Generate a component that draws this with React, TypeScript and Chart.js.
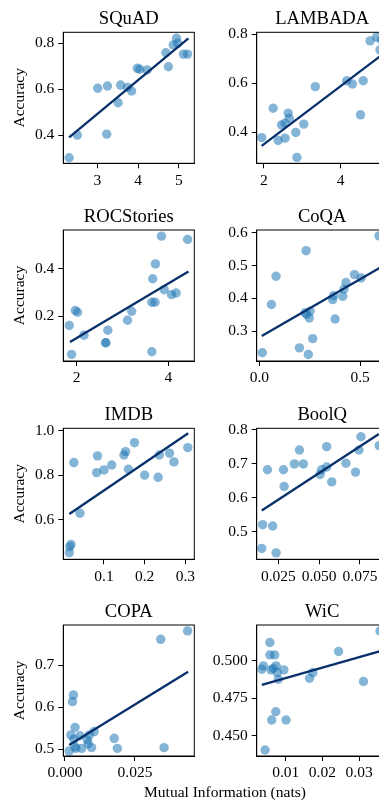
import React, { useEffect, useRef } from 'react';
import { Chart, registerables } from 'chart.js';

Chart.register(...registerables);

const FONT = '"Liberation Serif", "Times New Roman", serif';
const TICK_SIZE = 15.5;
const LABEL_SIZE = 15.5;
const TITLE_SIZE = 18.6;
const DOT = 'rgba(31,119,180,0.55)';
const LINE = 'rgb(8,48,107)';

// ---------- SQuAD ----------
const squadX = [2.31, 2.51, 3.01, 3.25, 3.23, 3.51, 3.57, 3.74, 3.84, 3.98, 4.04, 4.22, 4.68, 4.74, 4.86, 4.94, 4.97, 5.11, 5.21];
const squadY = [0.301, 0.40, 0.604, 0.614, 0.404, 0.541, 0.618, 0.608, 0.592, 0.691, 0.687, 0.684, 0.759, 0.698, 0.793, 0.822, 0.80, 0.753, 0.753];
const squadFitX = [2.31, 5.23];
const squadFitY = [0.39, 0.822];
const squadXTicks = [3, 4, 5];
const squadXLabels = ['3', '4', '5'];
const squadYTicks = [0.4, 0.6, 0.8];
const squadYLabels = ['0.4', '0.6', '0.8'];

// ---------- LAMBADA ----------
const lambadaX = [1.94, 2.24, 2.37, 2.46, 2.55, 2.55, 2.63, 2.66, 2.83, 2.86, 3.04, 3.34, 4.16, 4.31, 4.59, 4.52, 4.77, 4.94, 5.03, 5.07];
const lambadaY = [0.378, 0.498, 0.366, 0.43, 0.437, 0.376, 0.478, 0.457, 0.399, 0.297, 0.433, 0.586, 0.61, 0.597, 0.61, 0.471, 0.773, 0.788, 0.736, 0.777];
const lambadaFitX = [1.94, 5.2];
const lambadaFitY = [0.344, 0.73];
const lambadaXTicks = [2, 4];
const lambadaXLabels = ['2', '4'];
const lambadaYTicks = [0.4, 0.6, 0.8];
const lambadaYLabels = ['0.4', '0.6', '0.8'];

// ---------- ROCStories ----------
const rocX = [1.84, 1.89, 1.97, 2.02, 2.16, 2.63, 2.64, 2.68, 3.11, 3.2, 3.64, 3.66, 3.64, 3.71, 3.72, 3.85, 3.91, 4.07, 4.17, 4.42];
const rocY = [0.161, 0.039, 0.224, 0.217, 0.12, 0.088, 0.088, 0.141, 0.183, 0.221, 0.05, 0.358, 0.259, 0.259, 0.421, 0.538, 0.312, 0.291, 0.298, 0.524];
const rocFitX = [1.855, 4.44];
const rocFitY = [0.091, 0.389];
const rocXTicks = [2, 4];
const rocXLabels = ['2', '4'];
const rocYTicks = [0.2, 0.4];
const rocYLabels = ['0.2', '0.4'];

// ---------- CoQA ----------
const coqaX = [0.015, 0.06, 0.083, 0.199, 0.232, 0.227, 0.235, 0.243, 0.252, 0.248, 0.265, 0.364, 0.368, 0.376, 0.414, 0.42, 0.43, 0.472, 0.505, 0.594];
const coqaY = [0.234, 0.381, 0.467, 0.249, 0.545, 0.356, 0.351, 0.229, 0.361, 0.34, 0.277, 0.396, 0.408, 0.337, 0.406, 0.428, 0.448, 0.472, 0.462, 0.59];
const coqaFitX = [0.012, 0.62];
const coqaFitY = [0.285, 0.501];
const coqaXTicks = [0.0, 0.5];
const coqaXLabels = ['0.0', '0.5'];
const coqaYTicks = [0.3, 0.4, 0.5, 0.6];
const coqaYLabels = ['0.3', '0.4', '0.5', '0.6'];

// ---------- IMDB ----------
const imdbX = [0.0148, 0.016, 0.019, 0.026, 0.041, 0.082, 0.084, 0.1, 0.119, 0.149, 0.153, 0.16, 0.175, 0.2, 0.233, 0.236, 0.261, 0.272, 0.306];
const imdbY = [0.454, 0.481, 0.49, 0.857, 0.63, 0.812, 0.887, 0.824, 0.846, 0.891, 0.906, 0.827, 0.946, 0.801, 0.791, 0.891, 0.899, 0.86, 0.924];
const imdbFitX = [0.0148, 0.307];
const imdbFitY = [0.627, 0.988];
const imdbXTicks = [0.1, 0.2, 0.3];
const imdbXLabels = ['0.1', '0.2', '0.3'];
const imdbYTicks = [0.6, 0.8, 1.0];
const imdbYLabels = ['0.6', '0.8', '1.0'];

// ---------- BoolQ ----------
const boolqX = [0.0148, 0.0154, 0.0183, 0.0215, 0.0236, 0.0281, 0.0285, 0.0348, 0.0379, 0.0403, 0.0505, 0.0515, 0.0546, 0.0546, 0.0577, 0.0664, 0.0723, 0.0744, 0.0756, 0.0868];
const boolqY = [0.451, 0.521, 0.683, 0.517, 0.438, 0.683, 0.634, 0.70, 0.741, 0.70, 0.669, 0.683, 0.751, 0.691, 0.647, 0.702, 0.676, 0.741, 0.78, 0.754];
const boolqFitX = [0.0148, 0.0866];
const boolqFitY = [0.563, 0.788];
const boolqXTicks = [0.025, 0.05, 0.075];
const boolqXLabels = ['0.025', '0.050', '0.075'];
const boolqYTicks = [0.5, 0.6, 0.7, 0.8];
const boolqYLabels = ['0.5', '0.6', '0.7', '0.8'];

// ---------- COPA ----------
const copaX = [0.0015, 0.0021, 0.0027, 0.003, 0.0032, 0.0036, 0.0036, 0.0039, 0.0054, 0.006, 0.008, 0.0083, 0.0087, 0.0095, 0.0104, 0.0176, 0.0187, 0.0342, 0.0354, 0.0438];
const copaY = [0.496, 0.534, 0.613, 0.629, 0.524, 0.552, 0.506, 0.502, 0.532, 0.502, 0.522, 0.513, 0.534, 0.504, 0.542, 0.526, 0.502, 0.761, 0.504, 0.781];
const copaFitX = [0.0015, 0.044];
const copaFitY = [0.51, 0.684];
const copaXTicks = [0.0, 0.025];
const copaXLabels = ['0.000', '0.025'];
const copaYTicks = [0.5, 0.6, 0.7];
const copaYLabels = ['0.5', '0.6', '0.7'];

// ---------- WiC ----------
const wicX = [0.0035, 0.0039, 0.0044, 0.0057, 0.0057, 0.006, 0.0062, 0.0066, 0.007, 0.0073, 0.0074, 0.0077, 0.008, 0.0095, 0.0101, 0.0165, 0.0174, 0.0244, 0.0312, 0.0357];
const wicY = [0.4944, 0.4967, 0.4404, 0.5123, 0.504, 0.494, 0.4605, 0.4951, 0.504, 0.466, 0.4967, 0.4922, 0.4877, 0.494, 0.4605, 0.4884, 0.4922, 0.5063, 0.4862, 0.52];
const wicFitX = [0.0035, 0.0365];
const wicFitY = [0.484, 0.507];
const wicXTicks = [0.01, 0.02, 0.03];
const wicXLabels = ['0.01', '0.02', '0.03'];
const wicYTicks = [0.45, 0.475, 0.5];
const wicYLabels = ['0.450', '0.475', '0.500'];

type PanelDef = {
  title: string;
  xs: number[]; ys: number[]; fx: number[]; fy: number[];
  xt: number[]; xl: string[]; yt: number[]; yl: string[];
  xmin: number; xmax: number; ymin: number; ymax: number;
  row: number; col: number;
};

const panels: PanelDef[] = [
  { title: 'SQuAD', xs: squadX, ys: squadY, fx: squadFitX, fy: squadFitY, xt: squadXTicks, xl: squadXLabels, yt: squadYTicks, yl: squadYLabels, xmin: 2.167, xmax: 5.375, ymin: 0.277, ymax: 0.848, row: 0, col: 0 },
  { title: 'LAMBADA', xs: lambadaX, ys: lambadaY, fx: lambadaFitX, fy: lambadaFitY, xt: lambadaXTicks, xl: lambadaXLabels, yt: lambadaYTicks, yl: lambadaYLabels, xmin: 1.81, xmax: 5.23, ymin: 0.273, ymax: 0.808, row: 0, col: 1 },
  { title: 'ROCStories', xs: rocX, ys: rocY, fx: rocFitX, fy: rocFitY, xt: rocXTicks, xl: rocXLabels, yt: rocYTicks, yl: rocYLabels, xmin: 1.709, xmax: 4.567, ymin: 0.011, ymax: 0.564, row: 1, col: 0 },
  { title: 'CoQA', xs: coqaX, ys: coqaY, fx: coqaFitX, fy: coqaFitY, xt: coqaXTicks, xl: coqaXLabels, yt: coqaYTicks, yl: coqaYLabels, xmin: -0.013, xmax: 0.637, ymin: 0.209, ymax: 0.608, row: 1, col: 1 },
  { title: 'IMDB', xs: imdbX, ys: imdbY, fx: imdbFitX, fy: imdbFitY, xt: imdbXTicks, xl: imdbXLabels, yt: imdbYTicks, yl: imdbYLabels, xmin: 0.0, xmax: 0.322, ymin: 0.424, ymax: 1.0104, row: 2, col: 0 },
  { title: 'BoolQ', xs: boolqX, ys: boolqY, fx: boolqFitX, fy: boolqFitY, xt: boolqXTicks, xl: boolqXLabels, yt: boolqYTicks, yl: boolqYLabels, xmin: 0.0117, xmax: 0.092, ymin: 0.419, ymax: 0.805, row: 2, col: 1 },
  { title: 'COPA', xs: copaX, ys: copaY, fx: copaFitX, fy: copaFitY, xt: copaXTicks, xl: copaXLabels, yt: copaYTicks, yl: copaYLabels, xmin: -0.0006, xmax: 0.0462, ymin: 0.484, ymax: 0.795, row: 3, col: 0 },
  { title: 'WiC', xs: wicX, ys: wicY, fx: wicFitX, fy: wicFitY, xt: wicXTicks, xl: wicXLabels, yt: wicYTicks, yl: wicYLabels, xmin: 0.0021, xmax: 0.0378, ymin: 0.4364, ymax: 0.524, row: 3, col: 1 },
];

// layout
const ROW_TOPS = [32.3, 230, 428.3, 625];
const COL_LEFTS = [63.3, 256.7];
const CANVAS_LEFTS = [0, 195];
const PLOT_W = 131;
const PLOT_H = 131;
const CANVAS_W = 250;
const CANVAS_H = 205;

const framePlugin = {
  id: 'frame',
  afterDraw(chart: any, _args: any, opts: any) {
    const { ctx, chartArea: a } = chart;
    ctx.save();
    ctx.strokeStyle = '#000';
    ctx.lineWidth = 1;
    ctx.strokeRect(a.left, a.top, a.right - a.left, a.bottom - a.top);
    ctx.fillStyle = '#000';
    ctx.font = `${TITLE_SIZE}px ${FONT}`;
    ctx.textAlign = 'center';
    ctx.textBaseline = 'alphabetic';
    ctx.fillText(opts.title, (a.left + a.right) / 2, a.top - 8);
    if (opts.ylabel) {
      ctx.translate(24, (a.top + a.bottom) / 2);
      ctx.rotate(-Math.PI / 2);
      ctx.font = `${LABEL_SIZE}px ${FONT}`;
      ctx.textAlign = 'center';
      ctx.textBaseline = 'alphabetic';
      ctx.fillText(opts.ylabel, 0, 0);
    }
    ctx.restore();
  },
};

function Panel({ p }: { p: PanelDef }) {
  const ref = useRef<HTMLCanvasElement | null>(null);
  const canvasLeft = CANVAS_LEFTS[p.col];
  const plotTop = ROW_TOPS[p.row];
  const canvasTop = Math.round(plotTop) - 30;
  const padTop = plotTop - canvasTop;
  const yW = COL_LEFTS[p.col] - canvasLeft;
  const padRight = CANVAS_W - yW - PLOT_W;
  const xH = CANVAS_H - padTop - PLOT_H;

  useEffect(() => {
    if (!ref.current) return;
    const tickFont = { family: FONT, size: TICK_SIZE };
    const chart = new Chart(ref.current, {
      type: 'scatter',
      data: {
        datasets: [
          {
            type: 'line',
            data: p.fx.map((x, i) => ({ x, y: p.fy[i] })),
            borderColor: LINE,
            borderWidth: 2.3,
            pointRadius: 0,
            fill: false,
            showLine: true,
          } as any,
          {
            type: 'scatter',
            data: p.xs.map((x, i) => ({ x, y: p.ys[i] })),
            backgroundColor: DOT,
            borderWidth: 0,
            pointRadius: 4.7,
          },
        ],
      },
      options: {
        responsive: false,
        animation: false,
        devicePixelRatio: 1,
        events: [],
        layout: { padding: { top: padTop, right: padRight, left: 0, bottom: 0 } },
        plugins: {
          legend: { display: false },
          tooltip: { enabled: false },
          title: { display: false },
          frame: { title: p.title, ylabel: p.col === 0 ? 'Accuracy' : '' },
        } as any,
        scales: {
          x: {
            type: 'linear',
            min: p.xmin,
            max: p.xmax,
            afterBuildTicks: (s: any) => { s.ticks = p.xt.map((v) => ({ value: v })); },
            afterFit: (s: any) => { s.height = xH; },
            ticks: {
              autoSkip: false,
              maxRotation: 0,
              minRotation: 0,
              padding: 3,
              color: '#000',
              font: tickFont,
              callback: (_v: any, i: number) => p.xl[i],
            },
            grid: { display: true, drawOnChartArea: false, drawTicks: true, tickLength: 5, color: '#000', lineWidth: 1 },
            border: { display: true, color: '#000', width: 1 },
          },
          y: {
            type: 'linear',
            min: p.ymin,
            max: p.ymax,
            afterBuildTicks: (s: any) => { s.ticks = p.yt.map((v) => ({ value: v })); },
            afterFit: (s: any) => { s.width = yW; },
            ticks: {
              autoSkip: false,
              padding: 4,
              color: '#000',
              font: tickFont,
              callback: (_v: any, i: number) => p.yl[i],
            },
            grid: { display: true, drawOnChartArea: false, drawTicks: true, tickLength: 5, color: '#000', lineWidth: 1 },
            border: { display: true, color: '#000', width: 1 },
          },
        },
      },
      plugins: [framePlugin as any],
    } as any);
    return () => chart.destroy();
  }, []);

  return (
    <canvas
      ref={ref}
      width={CANVAS_W}
      height={CANVAS_H}
      style={{ position: 'absolute', left: canvasLeft, top: canvasTop, width: CANVAS_W, height: CANVAS_H }}
    />
  );
}

export default function App() {
  return (
    <div style={{ position: 'absolute', left: 0, top: 0, width: 379, height: 800, overflow: 'hidden', background: '#fff' }}>
      {panels.map((p) => (
        <Panel key={p.title} p={p} />
      ))}
      <div
        style={{
          position: 'absolute', left: 0, top: 783, width: 450, textAlign: 'center',
          fontFamily: FONT, fontSize: LABEL_SIZE, lineHeight: 'normal', color: '#000', whiteSpace: 'nowrap',
        }}
      >
        Mutual Information (nats)
      </div>
    </div>
  );
}
